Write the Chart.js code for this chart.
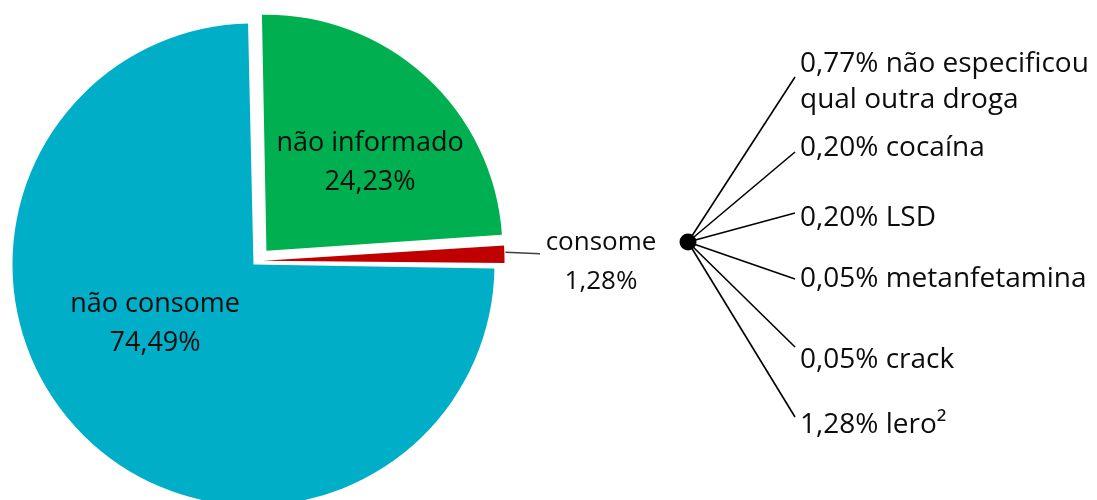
<!DOCTYPE html>
<html>
<head>
<meta charset="utf-8">
<script src="https://cdn.jsdelivr.net/npm/chart.js@4.4.1/dist/chart.umd.min.js"></script>
<style>
html, body { margin: 0; padding: 0; background: #fff; }
#wrap { width: 1097px; height: 500px; }
</style>
</head>
<body>
<div id="wrap"><canvas id="chartDrogas" width="1097" height="500"></canvas></div>
<script>
'use strict'

// dados
const categories = ['não informado', 'consome', 'não consome'];
const values = [24.23, 1.28, 74.49];

const drugNames = ['não especificou\nqual outra droga', 'cocaína', 'LSD', 'metanfetamina', 'crack', 'lero²'];
const drugValues = [0.77, 0.20, 0.20, 0.05, 0.05, 1.28];

const colors = {
	green: '#00B050',
	red: '#C00000',
	blue: '#00AEC7',
	text: '#0d0d0d',
	leader: '#404040',
};

const fmt = (v) => v.toFixed(2).replace('.', ',') + '%';

// layout
const fontPie = '27px "Open Sans"';
const fontConsome = '26px "Open Sans"';
const fontFan = '28px "Open Sans"';
const lineH = 39;
const insidePos = [[0.479, -0.415], null, [-0.432, 0.267]];
const consomeLabel = {x: 601, y: 262, leaderEnd: 540};
const fan = {x: 688, y: 242, r: 8.5, textX: 800, lineX: 795};
const fanRows = [
	{textY: 64, lineY: 77},
	{textY: 148, lineY: 152},
	{textY: 218, lineY: 213},
	{textY: 279, lineY: 279},
	{textY: 360, lineY: 347},
	{textY: 425, lineY: 417},
];

function drawLines(ctx, text, x, y){
	const lines = text.split('\n');
	const y0 = y - (lines.length - 1) * lineH / 2;
	lines.forEach((l, i) => ctx.fillText(l, x, y0 + i * lineH));
}

const annotate = {
	id: 'annotate',
	afterDatasetsDraw(chart){
		const ctx = chart.ctx;
		const arcs = chart.getDatasetMeta(0).data;
		const cx = arcs[0].x, cy = arcs[0].y, r = arcs[0].outerRadius;

		ctx.save();
		ctx.fillStyle = colors.text;
		ctx.textBaseline = 'middle';
		ctx.textAlign = 'center';

		// labels dentro das fatias
		ctx.font = fontPie;
		insidePos.forEach((p, i) => {
			if(!p) return;
			drawLines(ctx, categories[i] + '\n' + fmt(values[i]), cx + p[0] * r, cy + p[1] * r);
		});

		// fatia "consome": linha guia + texto
		const red = arcs[1];
		const mid = (red.startAngle + red.endAngle) / 2;
		const t = red.options.offset / 4;
		const rr = red.outerRadius + t * (1 - Math.sin(red.circumference)) + t;
		const sx = red.x + Math.cos(mid) * rr + 1;
		const sy = red.y + Math.sin(mid) * rr - 2;
		ctx.strokeStyle = colors.leader;
		ctx.lineWidth = 1.5;
		ctx.beginPath();
		ctx.moveTo(sx, sy);
		ctx.lineTo(consomeLabel.leaderEnd, sy + 1.5);
		ctx.stroke();
		ctx.font = fontConsome;
		drawLines(ctx, categories[1] + '\n' + fmt(values[1]), consomeLabel.x, consomeLabel.y);

		// detalhamento
		ctx.strokeStyle = '#000';
		ctx.lineWidth = 1.6;
		fanRows.forEach((row) => {
			ctx.beginPath();
			ctx.moveTo(fan.x, fan.y);
			ctx.lineTo(fan.lineX, row.lineY);
			ctx.stroke();
		});
		ctx.fillStyle = '#000';
		ctx.beginPath();
		ctx.arc(fan.x, fan.y, fan.r, 0, Math.PI * 2);
		ctx.fill();

		ctx.fillStyle = colors.text;
		ctx.textAlign = 'left';
		ctx.font = fontFan;
		drugNames.forEach((name, i) => {
			const lines = name.split('\n');
			lines.forEach((l, j) => {
				const txt = j === 0 ? fmt(drugValues[i]) + ' ' + l : l;
				ctx.fillText(txt, fan.textX, fanRows[i].textY + j * 36);
			});
		});
		ctx.restore();
	}
};

new Chart(document.getElementById('chartDrogas'), {
	type: 'pie',
	data: {
		labels: categories,
		datasets: [{
			data: values,
			backgroundColor: [colors.green, colors.red, colors.blue],
			borderWidth: 0,
			offset: [56, 24, 20],
			clip: false,
		}],
	},
	options: {
		responsive: false,
		animation: false,
		events: [],
		rotation: -1.1,
		radius: 236,
		layout: {
			padding: {left: 0, right: 583, top: 22, bottom: 0},
		},
		plugins: {
			legend: {display: false},
			tooltip: {enabled: false},
		},
	},
	plugins: [annotate],
});
</script>
</body>
</html>
